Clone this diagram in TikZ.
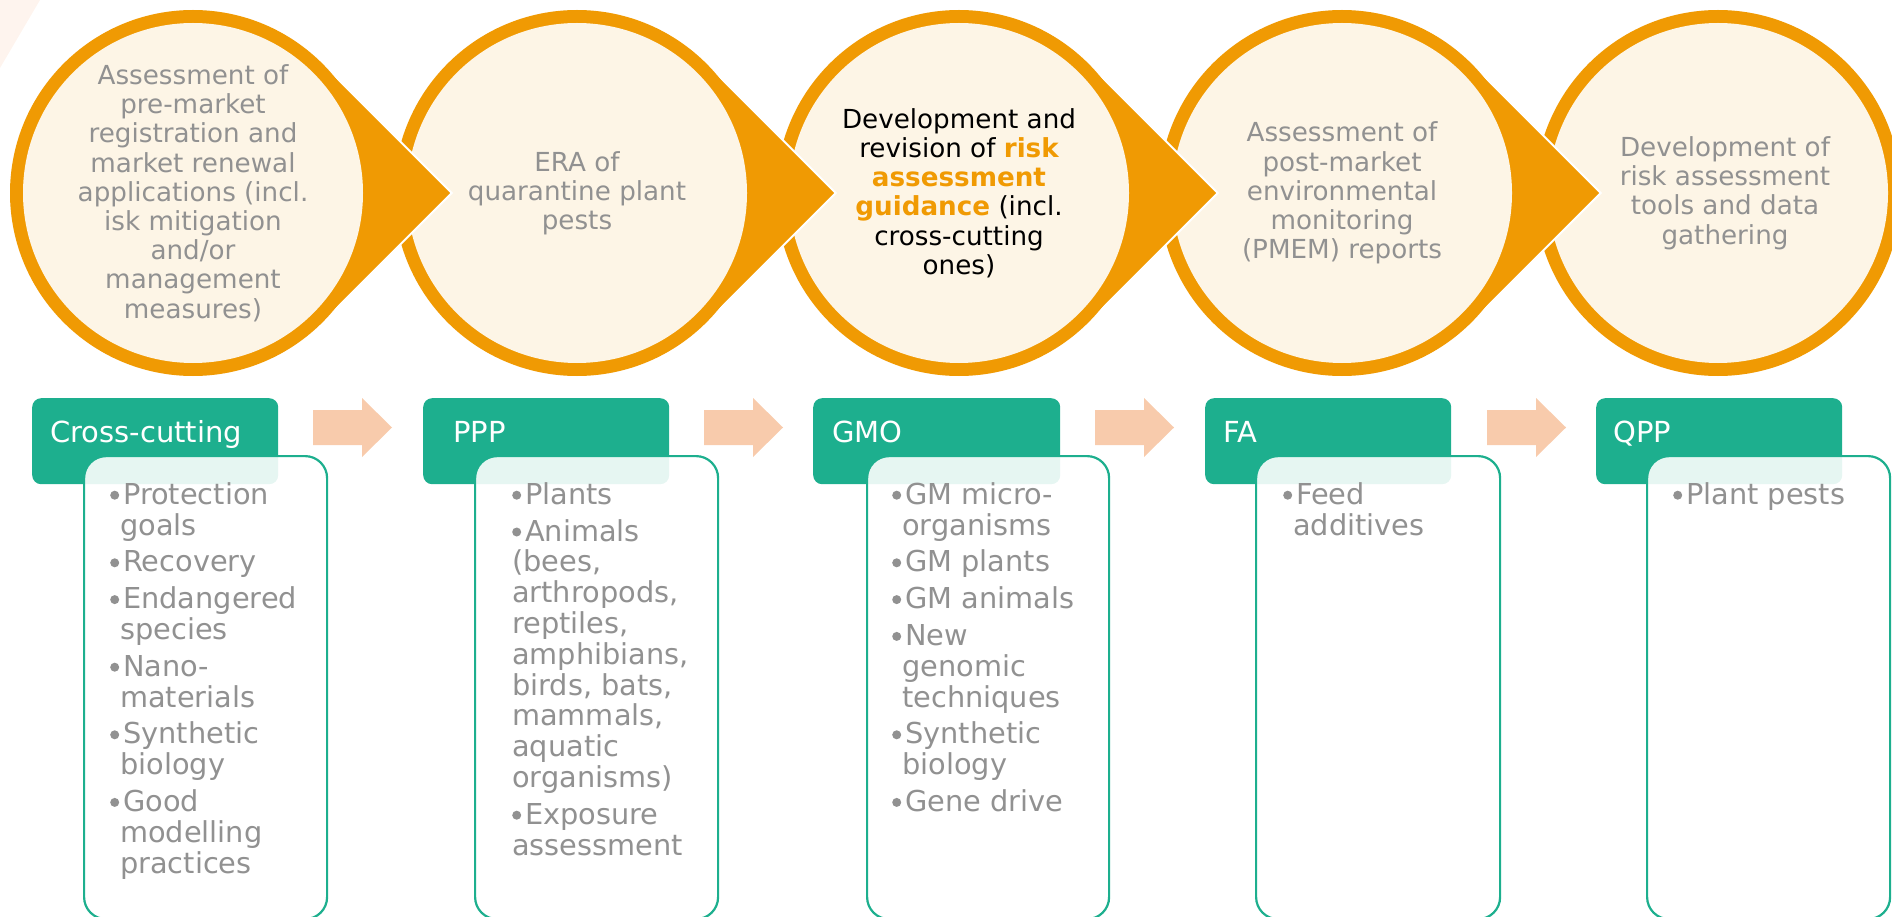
\documentclass[tikz,border=0pt]{standalone}
\usepackage{fontspec}
\setmainfont{DejaVu Sans}
\definecolor{ringc}{RGB}{240,154,3}
\definecolor{creamc}{RGB}{253,245,230}
\definecolor{txtgray}{RGB}{145,145,145}
\definecolor{tealc}{RGB}{29,175,142}
\definecolor{peachc}{RGB}{248,203,172}
\definecolor{fadec}{RGB}{254,244,238}
\newsavebox\bulbox
\newcommand\bl{\makebox[13pt][l]{\usebox\bulbox}}
\newcommand\ind{\hspace*{10pt}}
\newcommand\hl[1]{{\bfseries\color{ringc}#1}}
\begin{document}
\begin{tikzpicture}[x=1pt,y=-1pt,
  ctext/.style={align=center, text=txtgray, inner sep=0pt, font=\fontsize{26.2pt}{29.2pt}\selectfont},
  hdrbox/.style={fill=tealc, rounded corners=9pt, minimum width=246pt, minimum height=86pt, inner sep=0pt, anchor=north west},
  hdrtxt/.style={text=white, inner sep=0pt, anchor=base west, font=\fontsize{29pt}{33pt}\selectfont},
  listbox/.style={draw=tealc, line width=2.2pt, fill=white, fill opacity=0.89, rounded corners=22pt, minimum width=243pt, minimum height=463pt, inner sep=0pt, anchor=north west},
  listtxt/.style={align=left, text=txtgray, inner sep=0pt, anchor=north west, font=\fontsize{28.8pt}{30.8pt}\selectfont},
  ringfill/.style={fill=ringc},
  creamfill/.style={fill=creamc},
  peacharrow/.style={fill=peachc}
]
\sbox\bulbox{\tikz[baseline=-18pt]\fill[txtgray] (4.5pt,-9pt) circle[radius=4.5pt];}
\path[use as bounding box] (0,0) rectangle (1892,917);
\clip (0,0) rectangle (1892,917);

% faint background corner
\fill[fadec] (0,0) -- (40,0) -- (0,68) -- cycle;

% last circle (no pointer)
\fill[ringfill] (1718,193) circle[radius=183pt];
\fill[creamfill] (1718,193) circle[radius=170pt];

% circles with pointers (right to left so each pointer lies over the next circle)
\foreach \cx in {1342,959,577,193} {
  \filldraw[ringfill, draw=white, line width=2pt, line join=miter]
    (\cx+129.4,63.6) -- (\cx+258.8,193) -- (\cx+129.4,322.4) -- cycle;
  \fill[ringfill] (\cx,193) circle[radius=183pt];
  \fill[creamfill] (\cx,193) circle[radius=170pt];
}

% circle texts
\node[ctext] (t1) at (193,193) {Assessment of\\pre-market\\registration and\\market renewal\\applications (incl.\\isk mitigation\\and/or\\management\\measures)};
\node[ctext] (t2) at (577,193) {ERA of\\quarantine plant\\pests};
\node[ctext, text=black] (t3) at (959,193) {Development and\\revision of \hl{risk}\\\hl{assessment}\\\hl{guidance} (incl.\\cross-cutting\\ones)};
\node[ctext] (t4) at (1342,193) {Assessment of\\post-market\\environmental\\monitoring\\(PMEM) reports};
\node[ctext] (t5) at (1725,193) {Development of\\risk assessment\\tools and data\\gathering};

% header boxes
\node[hdrbox] (h1) at (32,398) {};
\node[hdrbox] (h2) at (423,398) {};
\node[hdrbox, minimum width=247pt] (h3) at (813,398) {};
\node[hdrbox] (h4) at (1205,398) {};
\node[hdrbox] (h5) at (1596,398) {};

% list boxes (translucent, over the headers)
\node[listbox] (b1) at (83,455) {};
\node[listbox] (b2) at (474,455) {};
\node[listbox, minimum width=242pt] (b3) at (866,455) {};
\node[listbox, minimum width=244pt] (b4) at (1255,455) {};
\node[listbox] (b5) at (1646,455) {};

% header texts
\node[hdrtxt] (ht1) at (50,442) {Cross-cutting};
\node[hdrtxt] (ht2) at (453,442) {PPP};
\node[hdrtxt] (ht3) at (832,442) {GMO};
\node[hdrtxt] (ht4) at (1223,442) {FA};
\node[hdrtxt] (ht5) at (1613,442) {QPP};

% peach arrows
\foreach \ax in {313,704,1095,1487} {
  \fill[peacharrow] (\ax,410) -- ++(49,0) -- ++(0,-12) -- ++(30,29.5) -- ++(-30,29.5) -- ++(0,-12) -- ++(-49,0) -- cycle;
}

% list texts
\node[listtxt] (l1) at (110,479) {\rule{0pt}{25pt}\bl Protection\\\ind goals\\[6pt]
\bl Recovery\\[6pt]
\bl Endangered\\\ind species\\[6pt]
\bl Nano-\\\ind materials\\[6pt]
\bl Synthetic\\\ind biology\\[6pt]
\bl Good\\\ind modelling\\\ind practices};
\node[listtxt] (l2) at (512,479) {\rule{0pt}{25pt}\bl Plants\\[6pt]
\bl Animals\\(bees,\\arthropods,\\reptiles,\\amphibians,\\birds, bats,\\mammals,\\aquatic\\organisms)\\[6pt]
\bl Exposure\\assessment};
\node[listtxt] (l3) at (892,479) {\rule{0pt}{25pt}\bl GM micro-\\\ind organisms\\[6pt]
\bl GM plants\\[6pt]
\bl GM animals\\[6pt]
\bl New\\\ind genomic\\\ind techniques\\[6pt]
\bl Synthetic\\\ind biology\\[6pt]
\bl Gene drive};
\node[listtxt] (l4) at (1283,479) {\rule{0pt}{25pt}\bl Feed\\\ind additives};
\node[listtxt] (l5) at (1673,479) {\rule{0pt}{25pt}\bl Plant pests};
\end{tikzpicture}
\end{document}
